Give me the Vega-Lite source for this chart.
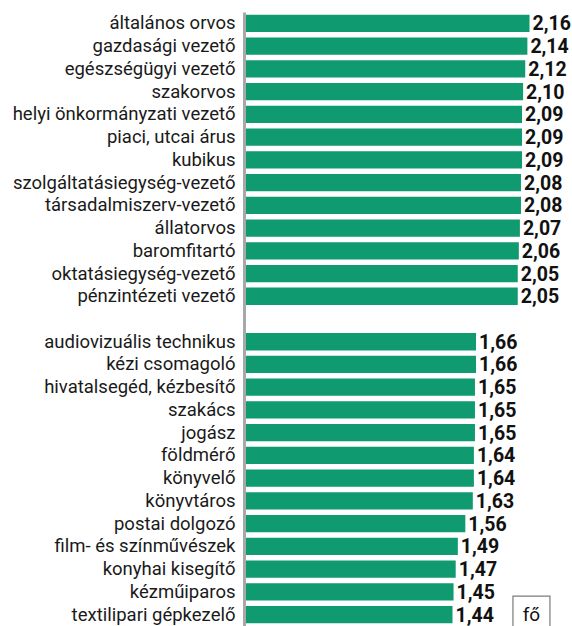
{
  "$schema": "https://vega.github.io/schema/vega-lite/v6.json",
  "width": 326,
  "height": 614,
  "autosize": {"type": "none"},
  "padding": {"left": 246, "top": 12, "right": 0, "bottom": 0},
  "background": "white",
  "config": {
    "view": {"stroke": null},
    "locale": {"number": {"decimal": ",", "thousands": " ", "grouping": [3], "currency": ["", " Ft"]}}
  },
  "datasets": {
    "jobs": [
      {"name": "általános orvos", "v": 2.16},
      {"name": "gazdasági vezető", "v": 2.14},
      {"name": "egészségügyi vezető", "v": 2.12},
      {"name": "szakorvos", "v": 2.10},
      {"name": "helyi önkormányzati vezető", "v": 2.09},
      {"name": "piaci, utcai árus", "v": 2.09},
      {"name": "kubikus", "v": 2.09},
      {"name": "szolgáltatásiegység-vezető", "v": 2.08},
      {"name": "társadalmiszerv-vezető", "v": 2.08},
      {"name": "állatorvos", "v": 2.07},
      {"name": "baromfitartó", "v": 2.06},
      {"name": "oktatásiegység-vezető", "v": 2.05},
      {"name": "pénzintézeti vezető", "v": 2.05},
      {"name": " ", "v": null},
      {"name": "audiovizuális technikus", "v": 1.66},
      {"name": "kézi csomagoló", "v": 1.66},
      {"name": "hivatalsegéd, kézbesítő", "v": 1.65},
      {"name": "szakács", "v": 1.65},
      {"name": "jogász", "v": 1.65},
      {"name": "földmérő", "v": 1.64},
      {"name": "könyvelő", "v": 1.64},
      {"name": "könyvtáros", "v": 1.63},
      {"name": "postai dolgozó", "v": 1.56},
      {"name": "film- és színművészek", "v": 1.49},
      {"name": "konyhai kisegítő", "v": 1.47},
      {"name": "kézműiparos", "v": 1.45},
      {"name": "textilipari gépkezelő", "v": 1.44}
    ],
    "unit": [{"label": "fő"}]
  },
  "layer": [
    {
      "data": {"name": "jobs"},
      "mark": {"type": "bar", "color": "#0f9a6f"},
      "encoding": {
        "y": {
          "field": "name", "type": "nominal", "sort": null,
          "scale": {
            "domain": ["általános orvos", "gazdasági vezető", "egészségügyi vezető", "szakorvos", "helyi önkormányzati vezető", "piaci, utcai árus", "kubikus", "szolgáltatásiegység-vezető", "társadalmiszerv-vezető", "állatorvos", "baromfitartó", "oktatásiegység-vezető", "pénzintézeti vezető", " ", "audiovizuális technikus", "kézi csomagoló", "hivatalsegéd, kézbesítő", "szakács", "jogász", "földmérő", "könyvelő", "könyvtáros", "postai dolgozó", "film- és színművészek", "konyhai kisegítő", "kézműiparos", "textilipari gépkezelő"],
            "paddingInner": 0.24, "paddingOuter": 0.12
          },
          "axis": {
            "title": null, "ticks": false, "domainColor": "#a8a8a8", "domainWidth": 3,
            "offset": 2, "labelPadding": 9, "labelFont": "Roboto",
            "labelFontSize": 18.5, "labelColor": "#1a1a1a", "labelLimit": 400
          }
        },
        "x": {
          "field": "v", "type": "quantitative",
          "scale": {"domain": [-0.49, 2.557], "zero": false, "nice": false},
          "axis": null
        },
        "x2": {"datum": -0.49}
      }
    },
    {
      "data": {"name": "jobs"},
      "transform": [{"filter": "datum.v != null"}],
      "mark": {"type": "text", "align": "left", "baseline": "middle", "dx": 3, "dy": 1,
               "font": "Roboto", "fontWeight": "bold", "fontSize": 19.5, "color": "#111"},
      "encoding": {
        "y": {"field": "name", "type": "nominal", "sort": null},
        "x": {"field": "v", "type": "quantitative"},
        "text": {"field": "v", "type": "quantitative", "format": ".2f"}
      }
    },
    {
      "data": {"name": "unit"},
      "mark": {"type": "point", "shape": "square", "size": 1369, "filled": false, "stroke": "#444", "strokeWidth": 1.2},
      "encoding": {
        "y": {"datum": "textilipari gépkezelő"},
        "x": {"datum": 2.178}
      }
    },
    {
      "data": {"name": "unit"},
      "mark": {"type": "text", "align": "center", "baseline": "middle", "font": "Roboto", "fontSize": 19, "color": "#111"},
      "encoding": {
        "y": {"datum": "textilipari gépkezelő"},
        "x": {"datum": 2.178},
        "text": {"field": "label"}
      }
    }
  ]
}
